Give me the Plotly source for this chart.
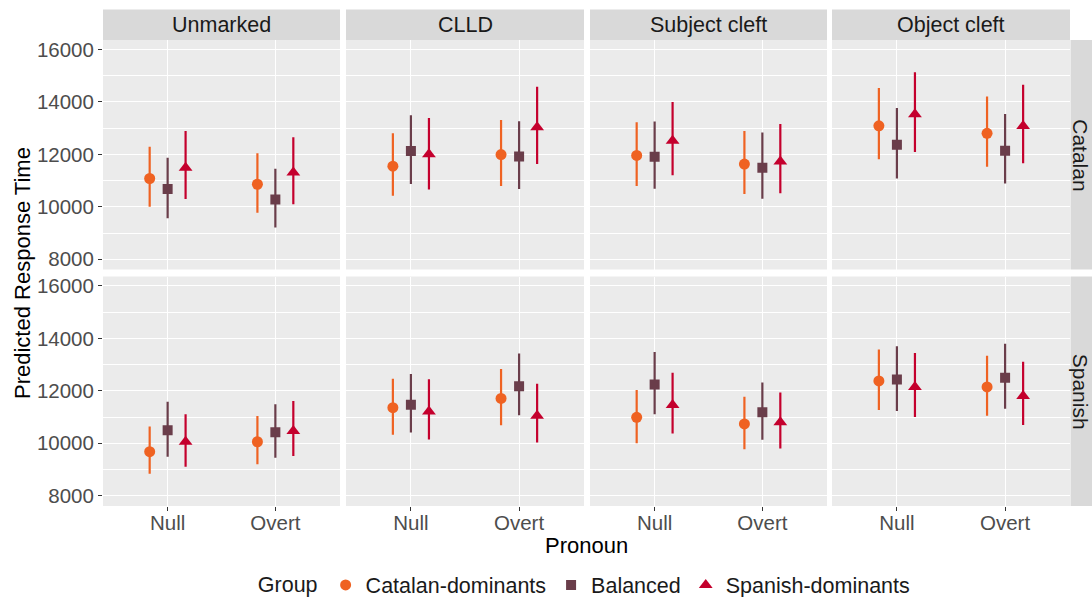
import plotly.graph_objects as go

# ---------------- data ----------------
constructions = ["Unmarked", "CLLD", "Subject cleft", "Object cleft"]
languages = ["Catalan", "Spanish"]
pronouns = ["Null", "Overt"]
groups = ["Catalan-dominants", "Balanced", "Spanish-dominants"]

# order of every list: language (Catalan, Spanish) -> construction -> pronoun (Null, Overt)
catdom_est = [11080, 10860, 11550, 11990, 11960, 11630, 13090, 12800,
              9680, 10060, 11360, 11710, 10990, 10740, 12380, 12150]
catdom_lo = [10000, 9770, 10420, 10790, 10790, 10490, 11810, 11530,
             8840, 9200, 10330, 10690, 10000, 9770, 11270, 11050]
catdom_hi = [12290, 12040, 12800, 13310, 13220, 12890, 14530, 14210,
             10640, 11040, 12460, 12830, 12030, 11780, 13580, 13340]

bal_est = [10680, 10280, 12130, 11920, 11910, 11490, 12370, 12140,
           10500, 10420, 11470, 12180, 12240, 11180, 12430, 12500]
bal_lo = [9560, 9210, 10870, 10680, 10690, 10310, 11080, 10890,
          9490, 9450, 10410, 11070, 11110, 10140, 11230, 11320]
bal_hi = [11870, 11450, 13490, 13260, 13250, 12830, 13770, 13540,
          11580, 11490, 12640, 13420, 13480, 12320, 13700, 13800]

spadom_est = [11490, 11310, 12000, 13030, 12520, 11730, 13530, 13080,
              10060, 10470, 11210, 11050, 11460, 10800, 12150, 11800]
spadom_lo = [10300, 10100, 10660, 11630, 11200, 10520, 12090, 11660,
             9110, 9520, 10150, 10030, 10370, 9800, 11000, 10700]
spadom_hi = [12890, 12650, 13390, 14580, 14000, 13160, 15130, 14650,
             11110, 11610, 12440, 12270, 12690, 11940, 13440, 13110]

y_ticks = [8000, 10000, 12000, 14000, 16000]
y_ticklabels = ["8000", "10000", "12000", "14000", "16000"]

# ---------------- styles ----------------
W, H = 1092, 597
FONT = "Liberation Sans, Arial, sans-serif"
series = [
    (groups[0], catdom_est, catdom_lo, catdom_hi, "#EF6222", "circle", 11),
    (groups[1], bal_est, bal_lo, bal_hi, "#6A3D4A", "square", 10),
    (groups[2], spadom_est, spadom_lo, spadom_hi, "#C4002D", "triangle-up", 12),
]
dodge = [-1 / 6, 0, 1 / 6]

col_px = [(103, 340), (346, 584), (590, 827), (832, 1070)]
row_px = [(40, 269.5), (276.5, 506)]
y_range = [7610, 16360]

fig = go.Figure()

def axid(n):
    return "" if n == 1 else str(n)

for gi, (gname, est, lo, hi, color, symbol, msize) in enumerate(series):
    for li, lang in enumerate(languages):
        for ci, cons in enumerate(constructions):
            n = li * 4 + ci + 1
            base = li * 8 + ci * 2
            ys = est[base:base + 2]
            lows = lo[base:base + 2]
            highs = hi[base:base + 2]
            xs = [pi + 1 + dodge[gi] for pi in range(len(pronouns))]
            fig.add_trace(go.Scatter(
                x=xs, y=ys, mode="markers",
                name=gname, legendgroup=gname,
                showlegend=(n == 1),
                marker=dict(color=color, symbol=symbol, size=msize, line=dict(width=0)),
                error_y=dict(type="data", symmetric=False,
                             array=[h - e for h, e in zip(highs, ys)],
                             arrayminus=[e - l for e, l in zip(ys, lows)],
                             color=color, thickness=2.2, width=0),
                xaxis="x" + axid(n), yaxis="y" + axid(n),
                hoverinfo="skip",
            ))

layout = dict(
    width=W, height=H,
    margin=dict(l=0, r=0, t=0, b=0, autoexpand=False),
    paper_bgcolor="white", plot_bgcolor="#EBEBEB",
    font=dict(family=FONT, color="#1A1A1A"),
    showlegend=True,
    legend=dict(orientation="h", x=0.536, xanchor="center", y=1 - 585 / H, yanchor="middle",
                title=dict(text="Group", font=dict(size=21.5, color="#1A1A1A"), side="left"),
                font=dict(size=21.5, color="#1A1A1A"), itemwidth=30, bgcolor="rgba(0,0,0,0)",
                tracegroupgap=0),
)

shapes = []
annotations = []
for li in range(2):
    for ci in range(4):
        n = li * 4 + ci + 1
        x0, x1 = col_px[ci]
        y0, y1 = row_px[li]
        layout["xaxis" + axid(n)] = dict(
            domain=[x0 / W, x1 / W], anchor="y" + axid(n),
            range=[0.4, 2.6], tickvals=[1, 2], ticktext=pronouns,
            showgrid=True, gridcolor="white", gridwidth=1.3, zeroline=False, showline=False,
            ticks="outside" if li == 1 else "", ticklen=4, tickcolor="#333333", tickwidth=1,
            showticklabels=(li == 1), tickfont=dict(size=20.5, color="#4D4D4D", family=FONT),
            ticklabelstandoff=-6,
            fixedrange=True,
        )
        layout["yaxis" + axid(n)] = dict(
            domain=[1 - y1 / H, 1 - y0 / H], anchor="x" + axid(n),
            range=y_range, tickvals=y_ticks, ticktext=y_ticklabels,
            showgrid=True, gridcolor="white", gridwidth=1.3, zeroline=False, showline=False,
            minor=dict(tick0=9000, dtick=2000, showgrid=True, gridcolor="white", gridwidth=0.6, ticks=""),
            ticks="outside" if ci == 0 else "", ticklen=4, tickcolor="#333333", tickwidth=1,
            showticklabels=(ci == 0), tickfont=dict(size=20.5, color="#4D4D4D", family=FONT),
            fixedrange=True,
        )

# top strips
for ci, cons in enumerate(constructions):
    x0, x1 = col_px[ci]
    shapes.append(dict(type="rect", xref="paper", yref="paper",
                       x0=x0 / W, x1=x1 / W, y0=1 - 40 / H, y1=1 - 9.5 / H,
                       fillcolor="#D9D9D9", line=dict(width=0), layer="below"))
    annotations.append(dict(text=cons, xref="paper", yref="paper",
                            x=(x0 + x1) / 2 / W, y=1 - 25 / H, showarrow=False,
                            xanchor="center", yanchor="middle",
                            font=dict(size=21.5, color="#1A1A1A", family=FONT)))
# right strips
for li, lang in enumerate(languages):
    y0, y1 = row_px[li]
    shapes.append(dict(type="rect", xref="paper", yref="paper",
                       x0=1070.5 / W, x1=1092 / W, y0=1 - y1 / H, y1=1 - y0 / H,
                       fillcolor="#D9D9D9", line=dict(width=0), layer="below"))
    annotations.append(dict(text=lang, xref="paper", yref="paper",
                            x=1080.5 / W, y=1 - (y0 + y1) / 2 / H, showarrow=False,
                            textangle=90, xanchor="center", yanchor="middle", borderpad=0,
                            font=dict(size=21, color="#1A1A1A", family=FONT)))

# axis titles
annotations.append(dict(text="Predicted Response Time", xref="paper", yref="paper",
                        x=22 / W, y=1 - 273 / H, showarrow=False, textangle=-90,
                        xanchor="center", yanchor="middle",
                        font=dict(size=22, color="black", family=FONT)))
annotations.append(dict(text="Pronoun", xref="paper", yref="paper",
                        x=586.5 / W, y=1 - 545 / H, showarrow=False,
                        xanchor="center", yanchor="middle",
                        font=dict(size=22, color="black", family=FONT)))

layout["shapes"] = shapes
layout["annotations"] = annotations
fig.update_layout(**layout)

fig.write_html("out.html")
